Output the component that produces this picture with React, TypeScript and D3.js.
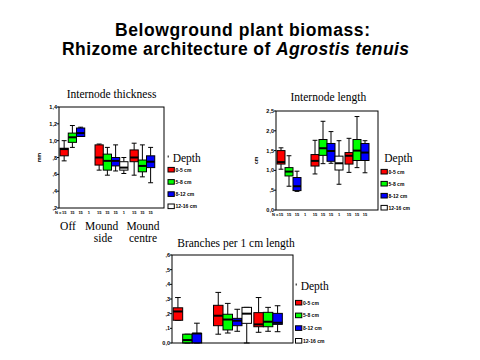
import React from "react";
import * as d3 from "d3";

// ---- data: [whiskerLow, q1, median, q3, whiskerHigh] per site group ----
const groups = ["Off", "Mound side", "Mound centre"];
const depths = ["0-5 cm", "5-8 cm", "8-12 cm", "12-16 cm"];
const depthColors = ["#ff0000", "#00ff00", "#0000ff", "#ffffff"];

type Box = number[] | null;

const thick0_5: Box[] = [[0.76, 0.82, 0.9, 0.91, 1.0], [0.65, 0.71, 0.8, 0.95, 0.96], [0.59, 0.75, 0.8, 0.89, 0.97]];
const thick5_8: Box[] = [[0.92, 0.98, 1.04, 1.09, 1.18], [0.59, 0.65, 0.76, 0.84, 0.92], [0.57, 0.63, 0.7, 0.77, 0.95]];
const thick8_12: Box[] = [[1.05, 1.05, 1.09, 1.15, 1.16], [0.64, 0.7, 0.76, 0.8, 0.95], [0.5, 0.68, 0.75, 0.82, 0.92]];
const thick12_16: Box[] = [null, [0.61, 0.65, 0.68, 0.75, 0.8], null];

const len0_5: Box[] = [[1.03, 1.16, 1.21, 1.5, 1.57], [0.91, 1.11, 1.24, 1.4, 1.76], [0.95, 1.16, 1.37, 1.45, 1.81]];
const len5_8: Box[] = [[0.6, 0.86, 0.97, 1.07, 1.37], [1.17, 1.38, 1.56, 1.78, 2.24], [1.07, 1.25, 1.5, 1.78, 2.36]];
const len8_12: Box[] = [[0.47, 0.49, 0.6, 0.82, 0.98], [1.18, 1.23, 1.49, 1.68, 1.98], [0.94, 1.25, 1.45, 1.68, 1.75]];
const len12_16: Box[] = [null, [0.65, 1.01, 1.18, 1.36, 1.75], null];

const br0_5: Box[] = [[0.155, 0.155, 0.215, 0.24, 0.31], [0.06, 0.118, 0.186, 0.257, 0.345], [0.073, 0.111, 0.127, 0.207, 0.31]];
const br5_8: Box[] = [[0, 0, 0.02, 0.06, 0.06], [0.068, 0.089, 0.16, 0.196, 0.27], [0.08, 0.111, 0.145, 0.209, 0.243]];
const br8_12: Box[] = [[0, 0, 0.065, 0.065, 0.135], [0.08, 0.118, 0.152, 0.168, 0.23], [0.077, 0.127, 0.138, 0.202, 0.254]];
const br12_16: Box[] = [null, [0, 0.134, 0.2, 0.243, 0.243], null];

const thickTicks = [0.2, 0.4, 0.6, 0.8, 1.0, 1.2, 1.4];
const lenTicks = [0, 0.5, 1.0, 1.5, 2.0, 2.5];
const brTicks = [0, 0.1, 0.2, 0.3, 0.4, 0.5, 0.6];

const thickN = [[15, 15, 15, 1], [15, 15, 15, 1], [15, 15, 15, null]];
const lenN = [[15, 15, 15, 1], [15, 15, 15, 1], [15, 15, 15, null]];

// comma decimal formatting like ",8" or "1,0"
function fmt(v: number, keepZero: boolean) {
  const s = v.toFixed(1).replace(".", ",");
  if (v > 0 && v < 1 && !keepZero) return s.slice(1);
  return s;
}

const SERIF = "'Liberation Serif', 'DejaVu Serif', serif";
const SANS = "'Liberation Sans', Arial, sans-serif";

interface ChartProps {
  x0: number; x1: number; y0: number; y1: number;
  domain: [number, number];
  ticks: number[];
  series: Box[][];
  title: string; titleX: number; titleY: number;
  yLabel?: string; yLabelX?: number;
  legendX: number; legendY: number; legendStep: number; depthX: number; depthY: number; legendMark?: boolean;
  counts?: (number | null)[][]; countsY?: number;
}

function BoxChart(p: ChartProps) {
  const y = d3.scaleLinear().domain(p.domain).range([p.y1, p.y0]);
  const band = d3.scaleBand<string>().domain(groups).range([p.x0, p.x1]).paddingInner(0).paddingOuter(0);
  const inner = d3.scaleBand<string>().domain(depths).range([0, band.bandwidth()]).paddingOuter(0.5 * 0.25).paddingInner(0);
  const bw = inner.bandwidth();
  const cap = bw * 0.6;
  return (
    <g>
      <text x={p.titleX} y={p.titleY} fontFamily={SERIF} fontSize={11.5} textAnchor="middle">{p.title}</text>
      {p.series.map((ser, di) =>
        ser.map((b, gi) => {
          if (!b) return null;
          const bx = (band(groups[gi]) as number) + (inner(depths[di]) as number);
          const cx = bx + bw / 2;
          const [lo, q1, med, q3, hi] = b;
          return (
            <g key={`${di}-${gi}`}>
              <line x1={cx} x2={cx} y1={y(hi)} y2={y(q3)} stroke="#000" strokeWidth={1} />
              <line x1={cx} x2={cx} y1={y(q1)} y2={y(lo)} stroke="#000" strokeWidth={1} />
              <line x1={cx - cap / 2} x2={cx + cap / 2} y1={y(hi)} y2={y(hi)} stroke="#000" strokeWidth={1} />
              <line x1={cx - cap / 2} x2={cx + cap / 2} y1={y(lo)} y2={y(lo)} stroke="#000" strokeWidth={1} />
              <rect x={bx} y={y(q3)} width={bw} height={Math.max(0.5, y(q1) - y(q3))} fill={depthColors[di]} stroke="#000" strokeWidth={1} />
              <line x1={bx} x2={bx + bw} y1={y(med)} y2={y(med)} stroke="#000" strokeWidth={2} />
            </g>
          );
        })
      )}
      <rect x={p.x0} y={p.y0} width={p.x1 - p.x0} height={p.y1 - p.y0} fill="none" stroke="#000" strokeWidth={1} />
      {p.ticks.map((t) => (
        <g key={t}>
          <line x1={p.x0 - 2} x2={p.x0} y1={y(t)} y2={y(t)} stroke="#000" strokeWidth={1} />
          <text x={p.x0 - 2} y={y(t) + 2} fontFamily={SANS} fontWeight="bold" fontSize={5.5} textAnchor="end">
            {fmt(t, t === 0)}
          </text>
        </g>
      ))}
      {p.yLabel && (
        <text transform={`translate(${p.yLabelX},${(p.y0 + p.y1) / 2}) rotate(-90)`} fontFamily={SANS} fontWeight="bold" fontSize={5} textAnchor="middle">
          {p.yLabel}
        </text>
      )}
      {p.counts && (
        <g fontFamily={SANS} fontWeight="bold" fontSize={4}>
          <text x={p.x0 - 4} y={p.countsY}>N =</text>
          {p.counts.map((row, gi) =>
            row.map((n, di) =>
              n == null ? null : (
                <text key={`${gi}-${di}`} x={(band(groups[gi]) as number) + (inner(depths[di]) as number) + bw / 2} y={p.countsY} textAnchor="middle">{n}</text>
              )
            )
          )}
        </g>
      )}
      {p.legendMark && <line x1={p.depthX - 4.5} x2={p.depthX - 4.5} y1={p.depthY - 6} y2={p.depthY - 4} stroke="#000" strokeWidth={1} />}
      <text x={p.depthX} y={p.depthY} fontFamily={SERIF} fontSize={11.5}>Depth</text>
      {depths.map((d, i) => (
        <g key={d}>
          <rect x={p.legendX} y={p.legendY + i * p.legendStep - 2.3} width={6.3} height={4.6} fill={depthColors[i]} stroke="#000" strokeWidth={1} />
          <text x={p.legendX + 7.5} y={p.legendY + i * p.legendStep + 1.8} fontFamily={SANS} fontWeight="bold" fontSize={5}>{d}</text>
        </g>
      ))}
    </g>
  );
}

export default function App() {
  return (
    <svg width={480} height={360} viewBox="0 0 480 360" style={{ position: "absolute", left: 0, top: 0, background: "#fff" }}>
      <rect x={0} y={0} width={480} height={360} fill="#fff" />
      <text x={242.5} y={36} fontFamily={SANS} fontWeight="bold" fontSize={17.5} textAnchor="middle" textLength={255} lengthAdjust="spacing">Belowground plant biomass:</text>
      <text x={235.5} y={55} fontFamily={SANS} fontWeight="bold" fontSize={17.5} textAnchor="middle" textLength={347} lengthAdjust="spacing">
        Rhizome architecture of <tspan fontStyle="italic">Agrostis tenuis</tspan>
      </text>

      <BoxChart
        x0={59} x1={164} y0={107} y1={208} domain={[0.2, 1.4]} ticks={thickTicks}
        series={[thick0_5, thick5_8, thick8_12, thick12_16]}
        title="Internode thickness" titleX={111.5} titleY={98}
        yLabel="mm" yLabelX={41}
        legendX={168} legendY={169.7} legendStep={12.2} depthX={172.7} depthY={161.5} legendMark
        counts={thickN} countsY={214}
      />
      <g fontFamily={SERIF} fontSize={11.5} textAnchor="middle">
        <text x={68} y={229.5}>Off</text>
        <text x={101.7} y={229.5}>Mound</text>
        <text x={103} y={241.5}>side</text>
        <text x={143} y={229.5}>Mound</text>
        <text x={143} y={241.5}>centre</text>
      </g>

      <BoxChart
        x0={276} x1={378} y0={111} y1={210} domain={[0, 2.5]} ticks={lenTicks}
        series={[len0_5, len5_8, len8_12, len12_16]}
        title="Internode length" titleX={328.3} titleY={101}
        yLabel="cm" yLabelX={258}
        legendX={381} legendY={171.7} legendStep={12} depthX={384.3} depthY={161.5}
        counts={lenN} countsY={216}
      />

      <BoxChart
        x0={172} x1={293} y0={255} y1={343} domain={[0, 0.6]} ticks={brTicks}
        series={[br0_5, br5_8, br8_12, br12_16]}
        title="Branches per 1 cm length" titleX={236} titleY={246.5}
        legendX={295.5} legendY={302.7} legendStep={12.7} depthX={300.7} depthY={289.5} legendMark
      />
    </svg>
  );
}
